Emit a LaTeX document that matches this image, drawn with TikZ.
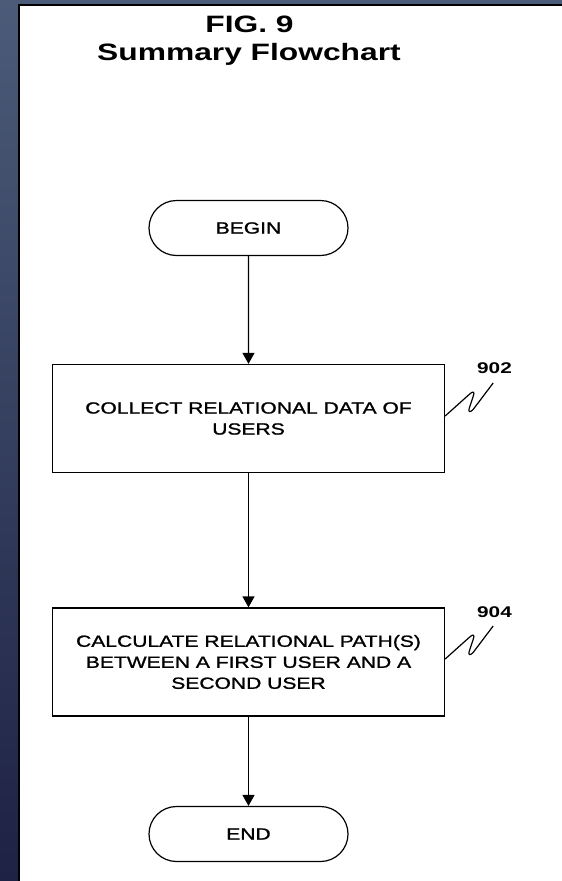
\documentclass[tikz,border=0pt]{standalone}
\usepackage{fontspec}
\newfontfamily\boxfont{Liberation Sans}[FakeStretch=1.3,FakeBold=1.2]
\newfontfamily\titlefont{Liberation Sans Bold}[FakeStretch=1.34]
\usetikzlibrary{shapes.misc,arrows.meta}
\definecolor{frametop}{HTML}{4B5B78}
\definecolor{framebot}{HTML}{1E2244}
\begin{document}
\begin{tikzpicture}[x=1pt,y=-1pt,
  stepbox/.style={draw, line width=1.3pt, minimum width=392pt, minimum height=108pt,
    align=center, inner sep=0pt, font=\boxfont\fontsize{16.2}{21}\selectfont},
  term/.style={draw, rounded rectangle, line width=1.2pt, minimum width=199pt,
    minimum height=55pt, inner sep=0pt, font=\boxfont\fontsize{16.2}{21}\selectfont},
  flow/.style={line width=1.3pt, -{Triangle[length=11pt,width=12pt]}},
  refnum/.style={font=\titlefont\fontsize{15.5}{18}\selectfont},
  titletext/.style={font=\titlefont\fontsize{23.7}{28}\selectfont, anchor=base},
  squig/.style={line width=1.2pt, line join=round}]
\useasboundingbox (0,0) rectangle (562,881);
% frame and page
\fill[top color=frametop, bottom color=framebot] (0,0) rectangle (562,881);
\fill[white] (19,5) rectangle (562,881);
\draw[line width=2pt] (19,881) -- (19,5) -- (562,5);
% title
\node[titletext] (fig) at (249.5,32) {FIG. 9};
\node[titletext] (sub) at (249,60) {Summary Flowchart};
% flow
\node[term] (begin) at (248.5,228) {BEGIN};
\node[stepbox] (box1) at (248.5,418.5) {COLLECT RELATIONAL DATA OF\\USERS};
\node[stepbox] (box2) at (248.5,662) {CALCULATE RELATIONAL PATH(S)\\BETWEEN A FIRST USER AND A\\SECOND USER};
\node[term] (end) at (248.5,834) {END};
\draw[flow] (begin) -- (box1);
\draw[flow] (box1) -- (box2);
\draw[flow] (box2) -- (end);
% reference numerals
\node[refnum] (n902) at (494.5,368.5) {902};
\node[refnum] (n904) at (494.5,612.5) {904};
\draw[squig, shift={(box1.east)}] (0,-2.5) -- (24,-24) .. controls (28,-28) and (30,-27) .. (28,-22) -- (24,-10) .. controls (23,-6) and (25,-6) .. (28,-9) -- (48,-35.5);
\draw[squig, shift={(box2.east)}] (0,-3) -- (24,-24.5) .. controls (28,-28.5) and (30,-27.5) .. (28,-22.5) -- (24,-10.5) .. controls (23,-6.5) and (25,-6.5) .. (28,-9.5) -- (48,-36);
\end{tikzpicture}
\end{document}
